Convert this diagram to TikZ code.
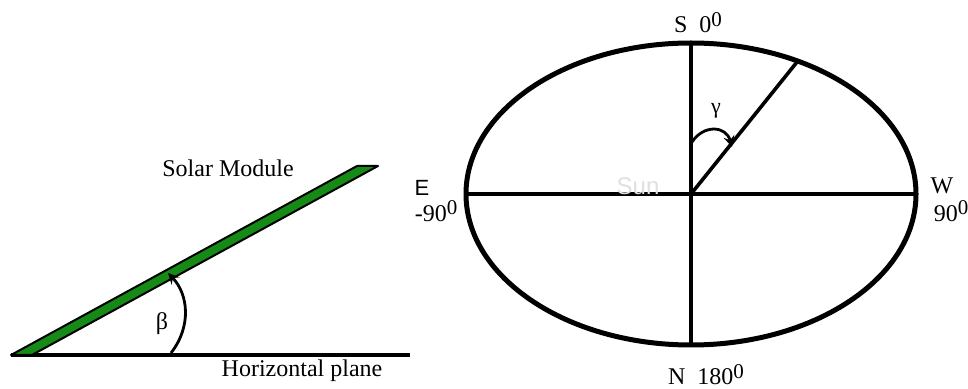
\documentclass[tikz,border=0pt]{standalone}
\usepackage{fontspec}
\setmainfont{Liberation Serif}
\setsansfont{Liberation Sans}
\definecolor{modulegreen}{RGB}{22,138,22}
\newcommand{\supzero}{\raisebox{.62ex}{\fontsize{10.5}{12}\selectfont 0}}
\begin{document}
\begin{tikzpicture}[x=0.5pt,y=-0.5pt,line join=round,>=stealth,
	lbl/.style={font=\fontsize{12}{14}\selectfont,inner sep=0pt},
	sanslbl/.style={font=\sffamily\fontsize{11}{13}\selectfont,inner sep=0pt}]
		\useasboundingbox (0,0) rectangle (968,389);
		% tilted module on the horizontal plane
		\coordinate (A) at (11,355);
		\coordinate (H) at (410,355);
		\draw[line width=2pt] (A)--(H);
		\draw[line width=1pt,fill=modulegreen] (A)--(32,355)--(378,166)--(357,166)--cycle;
		\coordinate (b1) at (171,353);
		\coordinate (b2) at (168,273);
		\draw[->,line width=1.4pt] (b1) .. controls (192,326) and (188,294) .. (b2);
		\node[lbl] (beta) at (162,324) {β};
		\node[lbl] (module) at (228,168) {Solar Module};
		\node[lbl] (plane) at (302,371) {Horizontal plane};
		% azimuth circle
		\coordinate (O) at (691,194);
		\coordinate (S) at (691,43);
		\coordinate (N) at (691,345);
		\coordinate (E) at (466,194);
		\coordinate (W) at (916,194);
		\coordinate (R) at (797,62);
		\draw[line width=1.7pt] (S)--(N) (E)--(W);
		\draw[line width=1.8pt] (O)--(R);
		\draw[line width=2.5pt] (O) ellipse [x radius=225,y radius=151];
		\node[sanslbl,font=\sffamily\fontsize{12}{14}\selectfont,text=gray!25] (sun) at (638,186) {Sun};
		\coordinate (g1) at (692,142);
		\coordinate (g2) at (732,147);
		\draw[->,line width=1.4pt] (g1) .. controls (704,124) and (726,126) .. (g2);
		\node[lbl,font=\fontsize{11}{13}\selectfont] (gamma) at (716,111) {γ};
		\node[lbl,anchor=base] (south) at (698,33) {S\ \ 0\supzero};
		\node[lbl,anchor=base] (north) at (706,385) {N\ \ 180\supzero};
		\node[sanslbl] (east) at (422,188) {E};
		\node[lbl] (eastdeg) at (436,211) {-90\supzero};
		\node[lbl] (west) at (942,186) {W};
		\node[lbl] (westdeg) at (951,211) {90\supzero};
		\end{tikzpicture}
\end{document}
